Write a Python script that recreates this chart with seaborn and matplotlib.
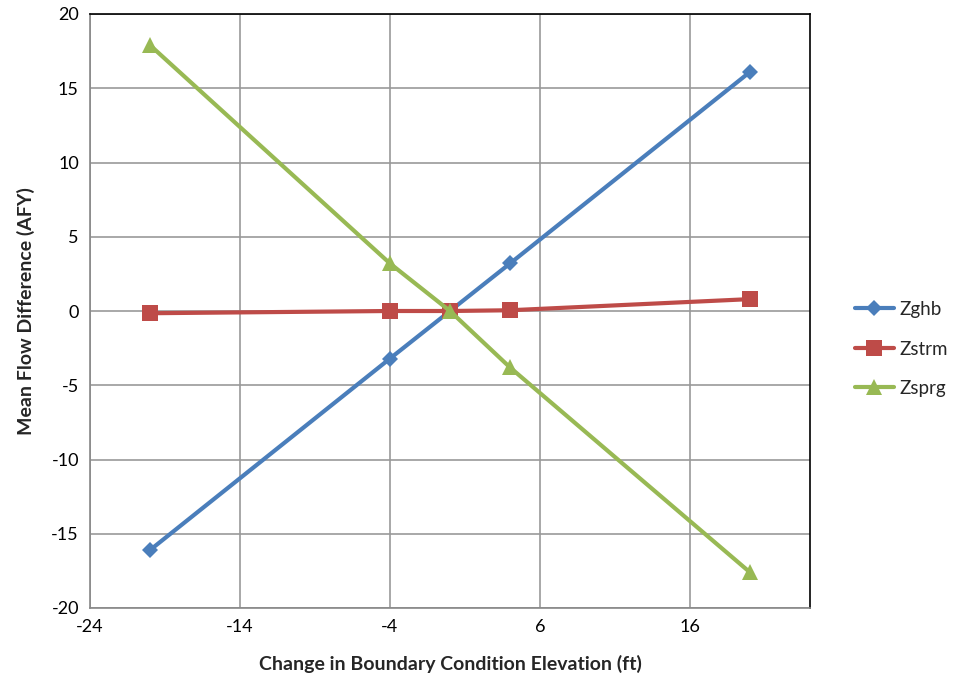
import pandas as pd
import seaborn as sns
from matplotlib import pyplot as plt

# change in boundary condition elevation (ft)
elev = [-20, -4, 0, 4, 20]

zghb = [-16.1, -3.2, 0.0, 3.2, 16.1]
zstrm = [-0.15, 0.0, 0.0, 0.05, 0.8]
zsprg = [17.9, 3.2, 0.0, -3.8, -17.6]

series = ['Zghb', 'Zstrm', 'Zsprg']

xticks = [-24, -14, -4, 6, 16]
yticks = [-20, -15, -10, -5, 0, 5, 10, 15, 20]

df = pd.DataFrame({
    'x': elev * 3,
    'y': zghb + zstrm + zsprg,
    'series': [s for s in series for _ in elev],
})

sns.set_theme(style='white')
plt.rcParams['font.family'] = ['Lato', 'DejaVu Sans']
plt.rcParams['axes.unicode_minus'] = False

fig = plt.figure(figsize=(9.58, 6.88), dpi=100)
ax = fig.add_axes([90 / 958, 1 - 608 / 688, 720 / 958, 594 / 688])

palette = {'Zghb': '#4a7ebb', 'Zstrm': '#be4b48', 'Zsprg': '#98b954'}
markers = {'Zghb': 'D', 'Zstrm': 's', 'Zsprg': '^'}
msize = {'Zghb': 8, 'Zstrm': 11, 'Zsprg': 12}

for s in series:
    sub = df[df['series'] == s]
    sns.lineplot(data=sub, x='x', y='y', color=palette[s], marker=markers[s],
                 markersize=msize[s], markeredgewidth=0, linewidth=3,
                 label=s, ax=ax, zorder=3)

ax.set_xlim(-24, 24)
ax.set_ylim(-20, 20)
ax.set_xticks(xticks)
ax.set_yticks(yticks)
ax.grid(True, color='#999999', linewidth=1.2)
ax.tick_params(axis='both', labelsize=13, colors='black', length=0, pad=8)

for side in ['left', 'bottom']:
    ax.spines[side].set_color('#888888')
    ax.spines[side].set_linewidth(1.2)
for side in ['top', 'right']:
    ax.spines[side].set_color('black')
    ax.spines[side].set_linewidth(1.2)

ax.set_xlabel('Change in Boundary Condition Elevation (ft)', fontsize=14,
              fontweight='bold', labelpad=14)
ax.set_ylabel('Mean Flow Difference (AFY)', fontsize=14, fontweight='bold',
              labelpad=12)

ax.legend(loc='center left', bbox_to_anchor=(1.062, 0.436), frameon=False,
          borderaxespad=0, borderpad=0, fontsize=13.5, handlelength=2.1,
          labelspacing=1.2, handletextpad=0.3)

fig.savefig('out.png', dpi=100)
